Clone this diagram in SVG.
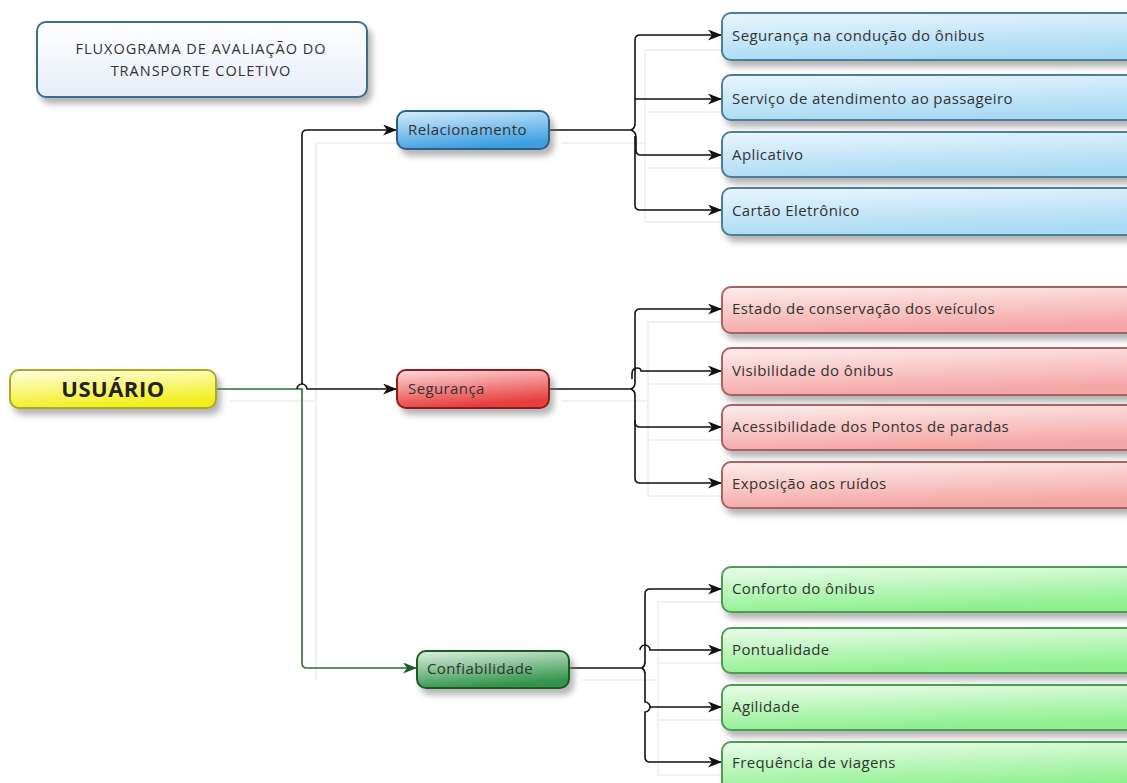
<svg xmlns="http://www.w3.org/2000/svg" width="1127" height="783" viewBox="0 0 1127 783">
<defs>
<style>
.t{font-family:"Open Sans","Liberation Sans",sans-serif;font-size:15px;letter-spacing:0.4px;fill:#333}
.tt{font-family:"Open Sans","Liberation Sans",sans-serif;font-size:14.5px;letter-spacing:1px;fill:#333;text-anchor:middle}
.tb{font-family:"Open Sans","Liberation Sans",sans-serif;font-size:22px;letter-spacing:0.5px;font-weight:bold;fill:#222;text-anchor:middle}
.c{fill:none;stroke:#111;stroke-width:1.6}
.cg{fill:none;stroke:#2d6e35;stroke-width:1.6}
.sh{fill:none;stroke:#f1f1f1;stroke-width:2}
.bc{stroke:#4f7d96;stroke-width:2}
.rc{stroke:#a86262;stroke-width:2}
.gc{stroke:#4f9a55;stroke-width:2}
</style>
<filter id="ds" x="-10%" y="-20%" width="130%" height="160%">
<feDropShadow dx="4" dy="6" stdDeviation="3" flood-color="#777" flood-opacity="0.55"/>
</filter>
<linearGradient id="gBlue" x1="0" y1="0" x2="0.3" y2="1"><stop offset="0" stop-color="#eaf6fd"/><stop offset="1" stop-color="#a9daf4"/></linearGradient>
<linearGradient id="gRed" x1="0" y1="0" x2="0.3" y2="1"><stop offset="0" stop-color="#fdeeee"/><stop offset="1" stop-color="#f5a6a6"/></linearGradient>
<linearGradient id="gGreen" x1="0" y1="0" x2="0.3" y2="1"><stop offset="0" stop-color="#ecfcec"/><stop offset="1" stop-color="#8ef08e"/></linearGradient>
<linearGradient id="gRel" x1="0" y1="0" x2="0.3" y2="1"><stop offset="0" stop-color="#d8eefb"/><stop offset="1" stop-color="#3e9fe2"/></linearGradient>
<linearGradient id="gSeg" x1="0" y1="0" x2="0.3" y2="1"><stop offset="0" stop-color="#fcdcdc"/><stop offset="1" stop-color="#e83c3c"/></linearGradient>
<linearGradient id="gConf" x1="0" y1="0" x2="0.3" y2="1"><stop offset="0" stop-color="#dff0e3"/><stop offset="1" stop-color="#32954b"/></linearGradient>
<linearGradient id="gUsu" x1="0" y1="0" x2="0.3" y2="1"><stop offset="0" stop-color="#ffffe6"/><stop offset="1" stop-color="#f2ee1e"/></linearGradient>
<linearGradient id="gTit" x1="0" y1="0" x2="0" y2="1"><stop offset="0" stop-color="#ffffff"/><stop offset="1" stop-color="#e6edf7"/></linearGradient>
<marker id="ab" viewBox="0 0 14 11" refX="14" refY="5.5" markerWidth="14" markerHeight="11" markerUnits="userSpaceOnUse" orient="auto"><path d="M0,0 L14,5.5 L0,11 L4,5.5 Z" fill="#111"/></marker>
<marker id="ag" viewBox="0 0 14 11" refX="14" refY="5.5" markerWidth="14" markerHeight="11" markerUnits="userSpaceOnUse" orient="auto"><path d="M0,0 L14,5.5 L0,11 L4,5.5 Z" fill="#1f5e27"/></marker>
</defs>
<rect width="1127" height="783" fill="#fff"/>

<g id="connector-shadows">
<path class="sh" d="M230,401 H316"/>
<path class="sh" d="M316,401 V143 H400"/>
<path class="sh" d="M316,680 V401"/>
<path class="sh" d="M562,143 H645 V50 H725 M645,112 H725 M645,143 V222 H725 M645,168 H725"/>
<path class="sh" d="M562,401 H648 V322 H725 M648,384 H725 M648,401 V496 H725 M648,440 H725"/>
<path class="sh" d="M582,680 H658 V602 H725 M658,663 H725 M658,680 V775 H725 M658,720 H725"/>
</g>

<g id="connectors">
<path class="cg" d="M216,389 H302 V663 Q302,668 307,668 H417" marker-end="url(#ag)"/>
<path class="c" d="M302,384 V135 Q302,130 307,130 H397" marker-end="url(#ab)"/>
<path class="c" d="M297,389 A5,5 0 0 1 307,389 H397" marker-end="url(#ab)"/>

<path class="c" d="M549,130 H631"/>
<path class="c" d="M631,130 Q635,128 635,124 V40 Q635,35 640,35 H722" marker-end="url(#ab)"/>
<path class="c" d="M635,99 H722" marker-end="url(#ab)"/>
<path class="c" d="M631,130 Q636,132 636,137 V150 Q636,155 641,155 H722" marker-end="url(#ab)"/>
<path class="c" d="M635,136 V205 Q635,210 640,210 H722" marker-end="url(#ab)"/>

<path class="c" d="M549,389 H631"/>
<path class="c" d="M631,389 Q635,387 635,383 V314 Q635,309 640,309 H722" marker-end="url(#ab)"/>
<path class="c" d="M632,379 V374 Q632,368 637,368 Q641,368 641,371 H722" marker-end="url(#ab)"/>
<path class="c" d="M631,389 Q635,391 635,395 V422 Q635,427 640,427 H722" marker-end="url(#ab)"/>
<path class="c" d="M635,420 V478 Q635,483 640,483 H722" marker-end="url(#ab)"/>

<path class="c" d="M569,668 H642"/>
<path class="c" d="M642,668 Q645,666 645,662 V594 Q645,589 650,589 H722" marker-end="url(#ab)"/>
<path class="c" d="M640,650 A5,5 0 0 1 650,650 H722" marker-end="url(#ab)"/>
<path class="c" d="M642,668 Q645,670 645,674 V702 A5,5 0 0 1 645,712 V757 Q645,762 650,762 H722" marker-end="url(#ab)"/>
<path class="c" d="M650,707 H722" marker-end="url(#ab)"/>
</g>

<g id="title">
<rect x="37" y="22" width="330" height="75" rx="9" fill="url(#gTit)" stroke="#3b6d8c" stroke-width="2" filter="url(#ds)"/>
<text class="tt" x="201" y="54">FLUXOGRAMA DE AVALIAÇÃO DO</text>
<text class="tt" x="201" y="76">TRANSPORTE COLETIVO</text>
</g>

<g id="usuario">
<rect x="10" y="370" width="206" height="38" rx="9" fill="url(#gUsu)" stroke="#aaa826" stroke-width="2" filter="url(#ds)"/>
<text class="tb" x="113" y="397">USUÁRIO</text>
</g>

<g id="relacionamento">
<rect x="397" y="111" width="152" height="38" rx="9" fill="url(#gRel)" stroke="#2d5f82" stroke-width="2" filter="url(#ds)"/>
<text class="t" x="408" y="135">Relacionamento</text>
</g>
<g id="seguranca">
<rect x="397" y="370" width="152" height="38" rx="9" fill="url(#gSeg)" stroke="#8e1e1e" stroke-width="2" filter="url(#ds)"/>
<text class="t" x="408" y="394">Segurança</text>
</g>
<g id="confiabilidade">
<rect x="417" y="651" width="152" height="37" rx="9" fill="url(#gConf)" stroke="#1c5a24" stroke-width="2" filter="url(#ds)"/>
<text class="t" x="427" y="674">Confiabilidade</text>
</g>

<g id="rel-1"><rect class="bc" x="722" y="13" width="430" height="47" rx="9" fill="url(#gBlue)" filter="url(#ds)"/><text class="t" x="732" y="41">Segurança na condução do ônibus</text></g>
<g id="rel-2"><rect class="bc" x="722" y="75" width="430" height="45" rx="9" fill="url(#gBlue)" filter="url(#ds)"/><text class="t" x="732" y="104">Serviço de atendimento ao passageiro</text></g>
<g id="rel-3"><rect class="bc" x="722" y="132" width="430" height="45" rx="9" fill="url(#gBlue)" filter="url(#ds)"/><text class="t" x="732" y="160">Aplicativo</text></g>
<g id="rel-4"><rect class="bc" x="722" y="188" width="430" height="47" rx="9" fill="url(#gBlue)" filter="url(#ds)"/><text class="t" x="732" y="216">Cartão Eletrônico</text></g>

<g id="seg-1"><rect class="rc" x="722" y="287" width="430" height="46" rx="9" fill="url(#gRed)" filter="url(#ds)"/><text class="t" x="732" y="314">Estado de conservação dos veículos</text></g>
<g id="seg-2"><rect class="rc" x="722" y="348" width="430" height="47" rx="9" fill="url(#gRed)" filter="url(#ds)"/><text class="t" x="732" y="376">Visibilidade do ônibus</text></g>
<g id="seg-3"><rect class="rc" x="722" y="405" width="430" height="45" rx="9" fill="url(#gRed)" filter="url(#ds)"/><text class="t" x="732" y="432">Acessibilidade dos Pontos de paradas</text></g>
<g id="seg-4"><rect class="rc" x="722" y="462" width="430" height="46" rx="9" fill="url(#gRed)" filter="url(#ds)"/><text class="t" x="732" y="489">Exposição aos ruídos</text></g>

<g id="conf-1"><rect class="gc" x="722" y="567" width="430" height="45" rx="9" fill="url(#gGreen)" filter="url(#ds)"/><text class="t" x="732" y="594">Conforto do ônibus</text></g>
<g id="conf-2"><rect class="gc" x="722" y="628" width="430" height="45" rx="9" fill="url(#gGreen)" filter="url(#ds)"/><text class="t" x="732" y="655">Pontualidade</text></g>
<g id="conf-3"><rect class="gc" x="722" y="685" width="430" height="45" rx="9" fill="url(#gGreen)" filter="url(#ds)"/><text class="t" x="732" y="712">Agilidade</text></g>
<g id="conf-4"><rect class="gc" x="722" y="742" width="430" height="50" rx="9" fill="url(#gGreen)" filter="url(#ds)"/><text class="t" x="732" y="768">Frequência de viagens</text></g>
</svg>
